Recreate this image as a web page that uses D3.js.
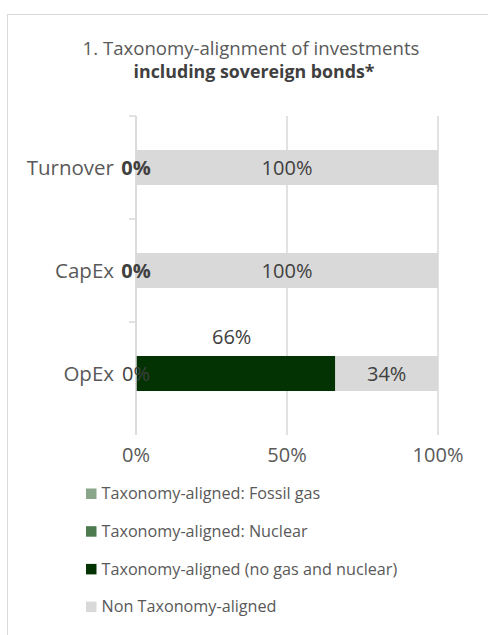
<!DOCTYPE html>
<html>
<head>
<meta charset="utf-8">
<script src="https://cdn.jsdelivr.net/npm/d3@7"></script>
<style>
  body { margin: 0; background: #fff; }
  text { font-family: "Open Sans", "Noto Sans", sans-serif; }
</style>
</head>
<body>
<div id="chart"></div>
<script>
var width = 488, height = 635;

// Data
var categories = ["Turnover", "CapEx", "OpEx"];
var seriesNames = ["Taxonomy-aligned: Fossil gas", "Taxonomy-aligned: Nuclear",
                   "Taxonomy-aligned (no gas and nuclear)", "Non Taxonomy-aligned"];
var fossilGas = [0, 0, 0];
var nuclear = [0, 0, 0];
var alignedNoGas = [0, 0, 66];
var nonAligned = [100, 100, 34];
var xTicks = [0, 50, 100];

var colors = ["#8aa68a", "#4e7a50", "#033303", "#d9d9d9"];

var svg = d3.select("#chart")
            .append("svg")
            .attr("width", width)
            .attr("height", height);

// chart area border
svg.append("rect")
   .attr("x", 7.5).attr("y", 14.5)
   .attr("width", 520).attr("height", 640)
   .attr("fill", "#fff")
   .attr("stroke", "#d9d9d9");

// title
var title = svg.append("text")
   .attr("text-anchor", "middle")
   .attr("fill", "#595959");
title.append("tspan").attr("x", 251).attr("y", 55)
   .attr("font-size", 18.6).text("1. Taxonomy-alignment of investments");
title.append("tspan").attr("x", 254).attr("y", 78)
   .attr("font-size", 17.8).attr("font-weight", "bold").attr("fill", "#404040")
   .text("including sovereign bonds*");

var plot = { left: 136, right: 438, top: 116, bottom: 425 };

var x = d3.scaleLinear().domain([0, 100]).range([plot.left, plot.right]);
var y = d3.scaleBand().domain(categories).range([plot.top, plot.bottom]).paddingInner(0.66).paddingOuter(0.33);
var yb = d3.scaleBand().domain(categories).range([plot.top, plot.bottom]);

// gridlines
svg.append("g")
   .selectAll("line")
   .data(xTicks)
   .enter()
   .append("line")
   .attr("x1", function(d) { return x(d); })
   .attr("x2", function(d) { return x(d); })
   .attr("y1", plot.top)
   .attr("y2", plot.bottom + 10)
   .attr("stroke", "#d9d9d9")
   .attr("stroke-width", 1.5);

// y ticks at band boundaries
var boundaries = categories.map(function(c) { return yb(c); });
svg.append("g")
   .selectAll("line")
   .data(boundaries)
   .enter()
   .append("line")
   .attr("x1", plot.left - 7)
   .attr("x2", plot.left)
   .attr("y1", function(d) { return d; })
   .attr("y2", function(d) { return d; })
   .attr("stroke", "#d9d9d9")
   .attr("stroke-width", 1.5);

// stacked bars
var rows = categories.map(function(c, i) {
  return { cat: c, fossil: fossilGas[i], nuclear: nuclear[i], aligned: alignedNoGas[i], non: nonAligned[i] };
});
var keys = ["fossil", "nuclear", "aligned", "non"];
var stacked = d3.stack().keys(keys)(rows);

svg.append("g")
   .selectAll("g")
   .data(stacked)
   .enter()
   .append("g")
   .attr("fill", function(d, i) { return colors[i]; })
   .selectAll("rect")
   .data(function(d) { return d; })
   .enter()
   .append("rect")
   .attr("x", function(d) { return x(d[0]); })
   .attr("width", function(d) { return x(d[1]) - x(d[0]); })
   .attr("y", function(d) { return y(d.data.cat); })
   .attr("height", y.bandwidth());

// axis line on top of bars
svg.append("line")
   .attr("x1", plot.left).attr("x2", plot.left)
   .attr("y1", plot.top).attr("y2", plot.bottom + 10)
   .attr("stroke", "#d9d9d9").attr("stroke-width", 1.5);

// category labels
svg.append("g")
   .selectAll("text")
   .data(categories)
   .enter()
   .append("text")
   .attr("x", plot.left - 22)
   .attr("y", function(d) { return y(d) + y.bandwidth() / 2; })
   .attr("dy", "0.36em")
   .attr("text-anchor", "end")
   .attr("font-size", 20.5)
   .attr("fill", "#595959")
   .text(function(d) { return d; });

// x tick labels
svg.append("g")
   .selectAll("text")
   .data(xTicks)
   .enter()
   .append("text")
   .attr("x", function(d) { return x(d); })
   .attr("y", 462)
   .attr("text-anchor", "middle")
   .attr("font-size", 20)
   .attr("fill", "#595959")
   .text(function(d) { return d + "%"; });

// data labels
var labelData = [];
stacked.forEach(function(s) {
  s.forEach(function(d) {
    var v = d[1] - d[0];
    var cx = (x(d[0]) + x(d[1])) / 2;
    var cy = y(d.data.cat) + y.bandwidth() / 2;
    if (s.key === "aligned") {
      if (v > 0) labelData.push({ x: cx - 4, y: cy - 37, t: v + "%", bold: false });
      else labelData.push({ x: cx, y: cy, t: "0%", bold: true });
    } else if (s.key === "non") {
      labelData.push({ x: cx, y: cy, t: v + "%", bold: false });
    } else if (s.key === "fossil" && d.data.aligned > 0) {
      labelData.push({ x: cx, y: cy, t: "0%", bold: false });
    }
  });
});

svg.append("g")
   .selectAll("text")
   .data(labelData)
   .enter()
   .append("text")
   .attr("x", function(d) { return d.x; })
   .attr("y", function(d) { return d.y; })
   .attr("dy", "0.36em")
   .attr("text-anchor", "middle")
   .attr("font-size", 20)
   .attr("font-weight", function(d) { return d.bold ? "bold" : "normal"; })
   .attr("fill", "#404040")
   .text(function(d) { return d.t; });

// legend
var legend = svg.append("g")
   .selectAll("g")
   .data(seriesNames)
   .enter()
   .append("g")
   .attr("transform", function(d, i) { return "translate(86," + (493.5 + i * 37.7) + ")"; });

legend.append("rect")
   .attr("x", 0).attr("y", -5)
   .attr("width", 10.5).attr("height", 10.5)
   .attr("fill", function(d, i) { return colors[i]; });

legend.append("text")
   .attr("x", 15.5)
   .attr("y", 0)
   .attr("dy", "0.36em")
   .attr("font-size", 16.2)
   .attr("fill", "#595959")
   .text(function(d) { return d; });
</script>
</body>
</html>
